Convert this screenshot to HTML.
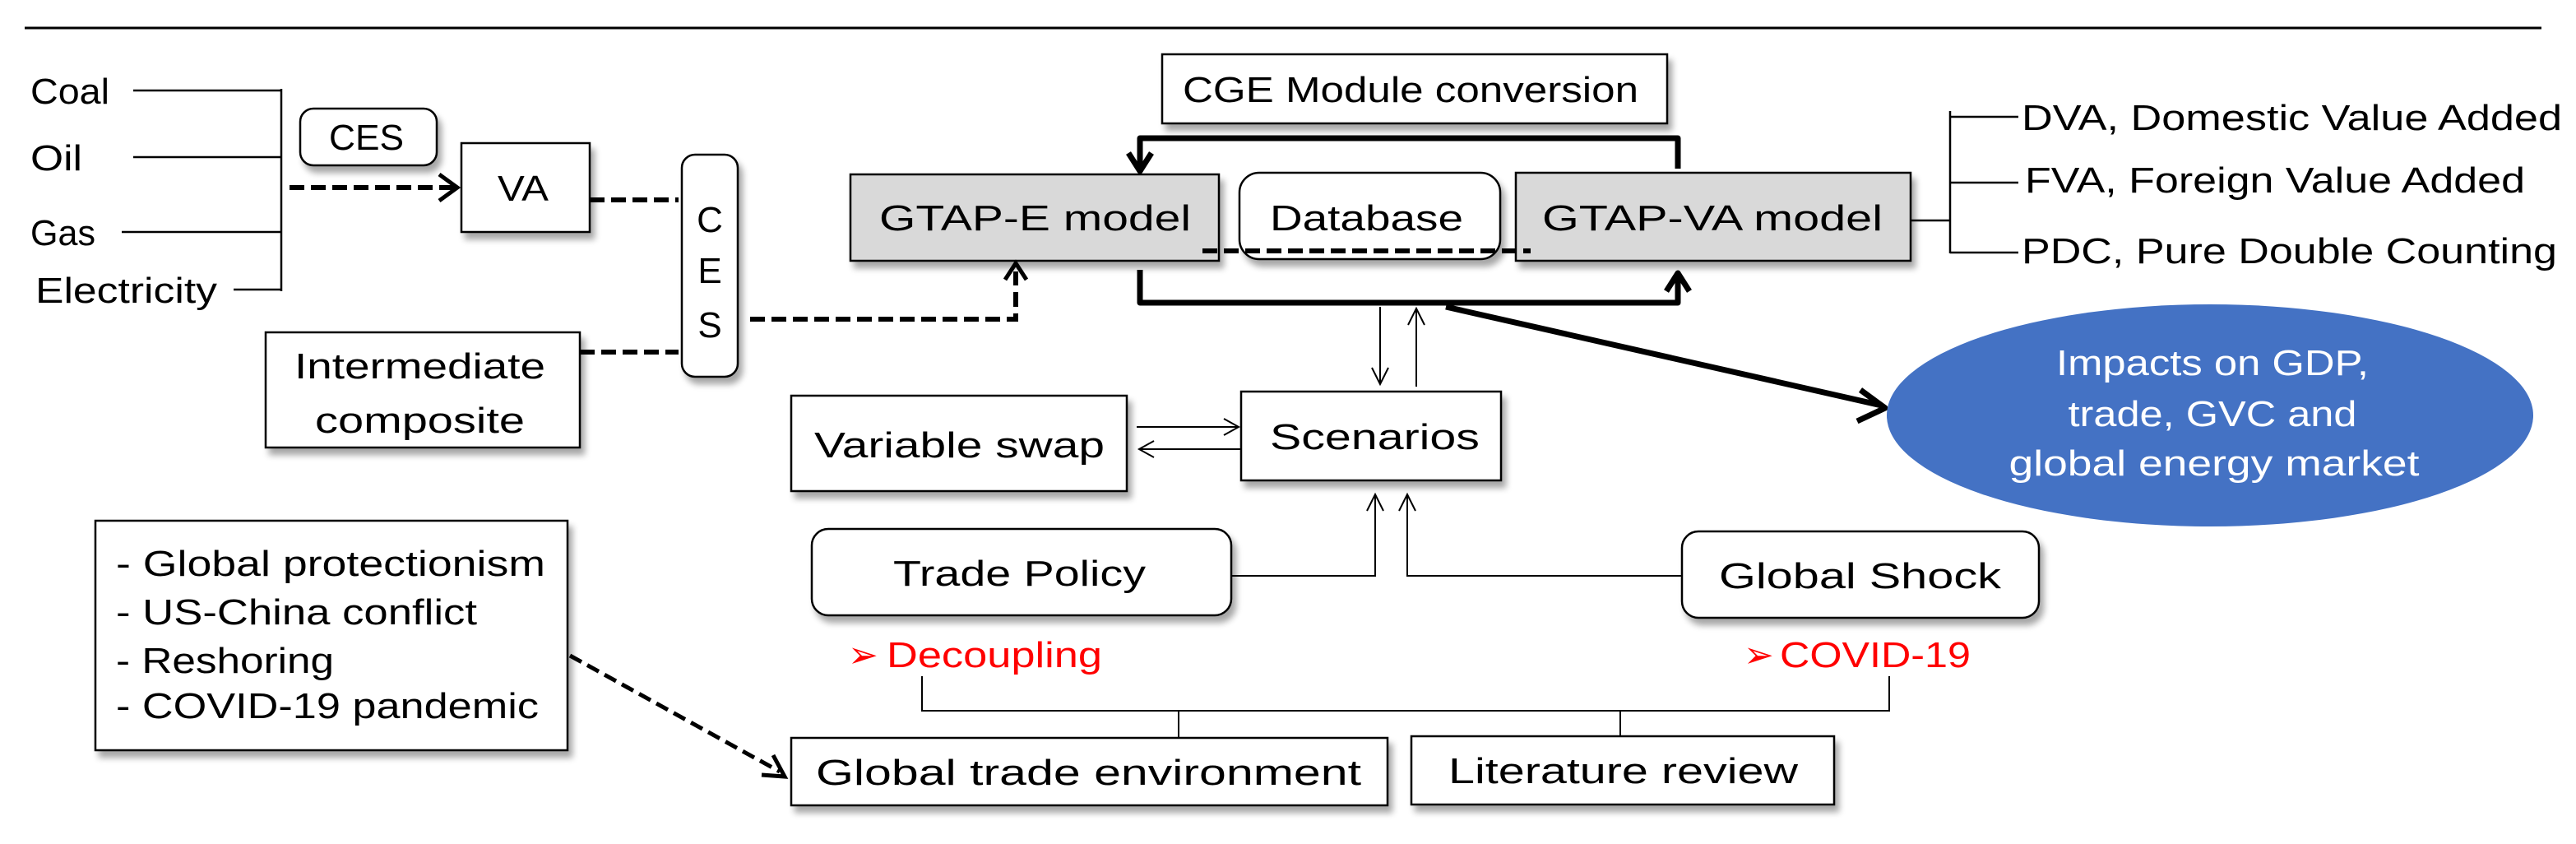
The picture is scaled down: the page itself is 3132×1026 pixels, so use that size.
<!DOCTYPE html>
<html><head><meta charset="utf-8"><style>
html,body{margin:0;padding:0;background:#fff;}
svg{display:block;}
text{font-family:"Liberation Sans","Noto Sans CJK KR",sans-serif;font-size:44px;fill:#000;}
</style></head><body>
<svg width="3132" height="1026" viewBox="0 0 3132 1026" xmlns="http://www.w3.org/2000/svg">
<defs>
<filter id="sh" x="-10%" y="-10%" width="130%" height="140%">
<feGaussianBlur in="SourceAlpha" stdDeviation="4"/>
<feOffset dx="5" dy="8" result="b"/>
<feComponentTransfer><feFuncA type="linear" slope="0.35"/></feComponentTransfer>
<feMerge><feMergeNode/><feMergeNode in="SourceGraphic"/></feMerge>
</filter>
</defs>
<line x1="30" y1="34" x2="3090" y2="34" stroke="#000" stroke-width="3"/>

<text x="37" y="126" textLength="96" lengthAdjust="spacingAndGlyphs">Coal</text>
<text x="37" y="207" textLength="63" lengthAdjust="spacingAndGlyphs">Oil</text>
<text x="37" y="298" textLength="79" lengthAdjust="spacingAndGlyphs">Gas</text>
<text x="43" y="368" textLength="221" lengthAdjust="spacingAndGlyphs">Electricity</text>
<g stroke="#000" stroke-width="2.5" fill="none">
<path d="M162 110H342M162 191H342M148 282H342M284 352H342M342 108V354"/>
</g>
<g filter="url(#sh)" stroke="#000" stroke-width="2.5" fill="#fff">
<rect x="365" y="132" width="166" height="69" rx="16"/>
<rect x="561" y="174" width="156" height="108"/>
<rect x="829" y="188" width="68" height="270" rx="16"/>
<rect x="323" y="404" width="382" height="140"/>
<rect x="1034" y="212" width="448" height="105" fill="#d9d9d9"/>
<rect x="1507" y="210" width="317" height="105" rx="24"/>
<rect x="1843" y="210" width="480" height="107" fill="#d9d9d9"/>
<rect x="1413" y="66" width="614" height="84"/>
<rect x="962" y="481" width="408" height="116"/>
<rect x="1509" y="476" width="316" height="108"/>
<rect x="987" y="643" width="510" height="105" rx="20"/>
<rect x="2045" y="646" width="434" height="105" rx="20"/>
<rect x="116" y="633" width="574" height="279"/>
<rect x="962" y="897" width="725" height="82"/>
<rect x="1716" y="895" width="514" height="83"/>
</g>
<text x="400" y="182" textLength="91" lengthAdjust="spacingAndGlyphs">CES</text>
<text x="605" y="244" textLength="62" lengthAdjust="spacingAndGlyphs">VA</text>
<text x="863" y="282" text-anchor="middle" font-size="50">C</text>
<text x="863" y="344" text-anchor="middle" font-size="50">E</text>
<text x="863" y="410" text-anchor="middle" font-size="50">S</text>
<text x="358" y="460" textLength="305" lengthAdjust="spacingAndGlyphs">Intermediate</text>
<text x="383" y="526" textLength="255" lengthAdjust="spacingAndGlyphs">composite</text>

<g stroke="#000" stroke-width="6" fill="none" stroke-dasharray="18,8">
<path d="M352 228H552"/>
<path d="M717 243H825"/>
<path d="M705 428H825"/>
<path d="M912 388H1235V330"/>
<path d="M1462 305H1861"/>
</g>
<g stroke="#000" stroke-width="5" fill="none">
<path d="M534 212L556 228L534 244"/>
<path d="M1222 340L1235 320L1248 340"/>
</g>

<text x="1069" y="280" textLength="379" lengthAdjust="spacingAndGlyphs">GTAP-E  model</text>
<text x="1544" y="280" textLength="235" lengthAdjust="spacingAndGlyphs">Database</text>
<text x="1875" y="280" textLength="414" lengthAdjust="spacingAndGlyphs">GTAP-VA  model</text>
<text x="1438" y="124" textLength="554" lengthAdjust="spacingAndGlyphs">CGE Module conversion</text>

<g stroke="#000" stroke-width="7" fill="none" stroke-linejoin="round">
<path d="M2040 205V168H1386V205"/>
<path d="M1372 186L1386 208L1400 186"/>
<path d="M1386 328V368H2040V336"/>
<path d="M2026 354L2040 332L2054 354"/>
<path d="M1758 373L2288 493"/>
<path d="M2262 474L2292 496L2258 512"/>
</g>

<g stroke="#000" stroke-width="2.5" fill="none">
<path d="M2323 268H2371M2371 135V308M2371 142H2454M2371 222H2454M2371 307H2454"/>
</g>
<text x="2458" y="158" textLength="657" lengthAdjust="spacingAndGlyphs">DVA, Domestic Value Added</text>
<text x="2462" y="234" textLength="608" lengthAdjust="spacingAndGlyphs">FVA, Foreign Value Added</text>
<text x="2458" y="320" textLength="651" lengthAdjust="spacingAndGlyphs">PDC, Pure Double Counting</text>

<ellipse cx="2687" cy="505" rx="393" ry="135" fill="#4472c4"/>
<text x="2690" y="456" text-anchor="middle" style="fill:#fff" textLength="380" lengthAdjust="spacingAndGlyphs">Impacts on GDP,</text>
<text x="2690" y="518" text-anchor="middle" style="fill:#fff" textLength="351" lengthAdjust="spacingAndGlyphs">trade, GVC and</text>
<text x="2692" y="578" text-anchor="middle" style="fill:#fff" textLength="499" lengthAdjust="spacingAndGlyphs">global energy market</text>

<g stroke="#000" stroke-width="2" fill="none">
<path d="M1678 373V467M1668 447L1678 467L1688 447"/>
<path d="M1722 470V375M1712 395L1722 375L1732 395"/>
<path d="M1382 519H1506M1488 509L1506 519L1488 529"/>
<path d="M1509 546H1385M1403 536L1385 546L1403 556"/>
<path d="M1497 700H1672V601M1662 621L1672 601L1682 621"/>
<path d="M2045 700H1711V601M1701 621L1711 601L1721 621"/>
<path d="M1121 822V864H2297V822M1433 864V897M1970 864V895"/>
</g>
<text x="990" y="556" textLength="353" lengthAdjust="spacingAndGlyphs">Variable swap</text>
<text x="1544" y="546" textLength="255" lengthAdjust="spacingAndGlyphs">Scenarios</text>
<text x="1086" y="712" textLength="307" lengthAdjust="spacingAndGlyphs">Trade Policy</text>
<text x="2090" y="715" textLength="343" lengthAdjust="spacingAndGlyphs">Global Shock</text>
<text x="1031" y="811" style="fill:#ff0000" font-size="36">➢</text>
<text x="1078" y="811" style="fill:#ff0000" textLength="262" lengthAdjust="spacingAndGlyphs">Decoupling</text>
<text x="2120" y="811" style="fill:#ff0000" font-size="36">➢</text>
<text x="2164" y="811" style="fill:#ff0000" textLength="232" lengthAdjust="spacingAndGlyphs">COVID-19</text>

<text x="141" y="700" textLength="522" lengthAdjust="spacingAndGlyphs">- Global protectionism</text>
<text x="141" y="759" textLength="439" lengthAdjust="spacingAndGlyphs">- US-China conflict</text>
<text x="141" y="818" textLength="265" lengthAdjust="spacingAndGlyphs">- Reshoring</text>
<text x="141" y="873" textLength="514" lengthAdjust="spacingAndGlyphs">- COVID-19 pandemic</text>

<g stroke="#000" stroke-width="5" fill="none">
<path d="M693 797L948 938" stroke-dasharray="16,8"/>
<path d="M926 942L954 944L940 918"/>
</g>

<text x="992" y="954" textLength="663" lengthAdjust="spacingAndGlyphs">Global trade environment</text>
<text x="1761" y="952" textLength="425" lengthAdjust="spacingAndGlyphs">Literature  review</text>
</svg>
</body></html>
